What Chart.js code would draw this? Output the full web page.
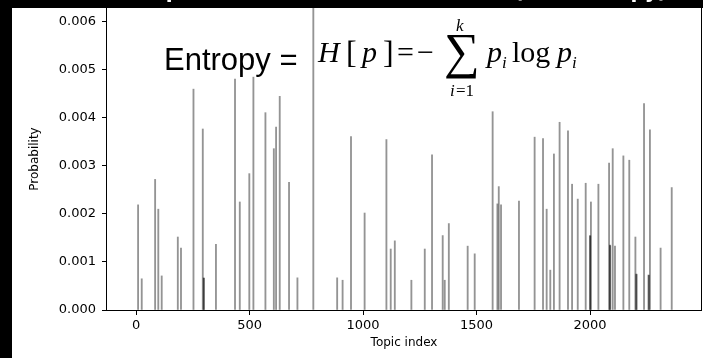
<!DOCTYPE html>
<html>
<head>
<meta charset="utf-8">
<script src="https://cdn.jsdelivr.net/npm/chart.js@4.4.1/dist/chart.umd.min.js"></script>
<style>
  html, body { margin: 0; padding: 0; background: #000; overflow: hidden; }
  #chart { display: block; }
</style>
</head>
<body>
<canvas id="chart" width="703" height="358"></canvas>
<script>
// topic indices and their probabilities
const topics = [9, 25, 84, 98, 113, 184, 198, 253, 294, 298, 299, 352, 436, 457, 499, 517,
  570, 607, 617, 633, 674, 711, 781, 886, 910, 947, 1007, 1103, 1122, 1140, 1213, 1272,
  1304, 1351, 1360, 1378, 1461, 1492, 1571, 1592, 1598, 1608, 1687, 1756, 1793, 1809,
  1825, 1841, 1866, 1903, 1921, 1946, 1981, 2000, 2001, 2004, 2037, 2084, 2088, 2089,
  2100, 2110, 2147, 2173, 2200, 2204, 2205, 2238, 2258, 2259, 2264, 2311, 2360];
const probs = [0.00219, 0.00065, 0.00272, 0.00210, 0.00071, 0.00152, 0.00129, 0.00460,
  0.00377, 0.00067, 0.00066, 0.00137, 0.00481, 0.00225, 0.00284, 0.00485,
  0.00411, 0.00336, 0.00381, 0.00445, 0.00266, 0.00067, 0.02000, 0.00067, 0.00062,
  0.00361, 0.00202, 0.00355, 0.00127, 0.00144, 0.00062, 0.00127,
  0.00323, 0.00155, 0.00062, 0.00180, 0.00133, 0.00117, 0.00413, 0.00221, 0.00257,
  0.00219, 0.00227, 0.00360, 0.00357, 0.00210,
  0.00083, 0.00325, 0.00391, 0.00373, 0.00262, 0.00231, 0.00264, 0.00155, 0.00154,
  0.00225, 0.00262, 0.00306, 0.00135, 0.00134,
  0.00336, 0.00133, 0.00321, 0.00312, 0.00152, 0.00075, 0.00074, 0.00430, 0.00073,
  0.00072, 0.00375, 0.00129, 0.00255];
const xTicks = [0, 500, 1000, 1500, 2000];
const yTicks = [0, 0.001, 0.002, 0.003, 0.004, 0.005, 0.006];

const titleText = "Topic distribution of a document (low entropy)";

// black page, white figure, title mostly cut off at the top
const backdrop = {
  id: "backdrop",
  beforeDraw(chart) {
    const ctx = chart.ctx;
    ctx.save();
    ctx.fillStyle = "#000";
    ctx.fillRect(0, 0, chart.width, chart.height);
    ctx.fillStyle = "#fff";
    ctx.fillRect(12, 8, chart.width - 12, chart.height - 8);
    ctx.font = "bold 20px 'DejaVu Sans'";
    ctx.textAlign = "center";
    ctx.textBaseline = "alphabetic";
    ctx.fillText(titleText, 404, -2);
    ctx.restore();
  }
};

// box around the axes and the entropy formula
const frame = {
  id: "frame",
  afterDraw(chart) {
    const ctx = chart.ctx;
    const a = chart.chartArea;
    ctx.save();
    ctx.strokeStyle = "#000";
    ctx.lineWidth = 1;
    ctx.strokeRect(Math.round(a.left) - 0.5, Math.round(a.top) - 0.5,
      Math.round(a.right - a.left) + 1, Math.round(a.bottom - a.top) + 1);

    ctx.fillStyle = "#000";
    ctx.textBaseline = "alphabetic";
    ctx.textAlign = "left";
    ctx.font = "31px 'Liberation Sans'";
    ctx.fillText("Entropy =", 164, 70);

    const it = "italic 30px 'Liberation Serif'";
    const rm = "30px 'Liberation Serif'";
    const sub = "italic 17px 'Liberation Serif'";
    const put = (txt, font, x, y) => { ctx.font = font; ctx.fillText(txt, x, y); };
    put("H", it, 318, 62);
    put("[", "32px 'Liberation Serif'", 346, 63);
    put("p", it, 362, 62);
    put("]", "32px 'Liberation Serif'", 383, 63);
    put("=", rm, 397, 62);
    put("\u2212", rm, 417, 62);
    put("\u2211", "50px 'Liberation Serif'", 444, 68);
    put("k", sub, 456, 31);
    put("i", sub, 450, 96);
    put("=1", "17px 'Liberation Serif'", 456, 96);
    put("p", it, 487, 62);
    put("i", sub, 502, 68);
    put("log", rm, 512, 62);
    put("p", it, 557, 62);
    put("i", sub, 572, 68);
    ctx.restore();
  }
};

const tickFont = { family: "'DejaVu Sans'", size: 13 };
const labelFont = { family: "'DejaVu Sans'", size: 12 };

new Chart(document.getElementById("chart"), {
  type: "bar",
  data: {
    datasets: [{
      data: topics.map((t, i) => ({ x: t, y: probs[i] })),
      backgroundColor: "rgba(0,0,0,0.42)",
      borderWidth: 0,
      barThickness: 1.2
    }]
  },
  options: {
    responsive: false,
    animation: false,
    devicePixelRatio: 1,
    layout: { padding: { left: 12, top: 8, right: 2, bottom: 0 } },
    plugins: { legend: { display: false }, tooltip: { enabled: false } },
    scales: {
      x: {
        type: "linear",
        min: -128,
        max: 2489,
        offset: false,
        afterBuildTicks: s => { s.ticks = xTicks.map(v => ({ value: v })); },
        afterFit: s => { s.height = 48; s.paddingLeft = 0; s.paddingRight = 0; },
        grid: { offset: false, drawOnChartArea: false, drawTicks: true, tickLength: 5, tickColor: "#000" },
        border: { display: false },
        ticks: { color: "#000", font: tickFont, padding: 3, maxRotation: 0, callback: v => String(v) },
        title: { display: true, text: "Topic index", color: "#000", font: labelFont, padding: { top: 0, bottom: 8 } }
      },
      y: {
        min: 0,
        max: 0.00629,
        afterBuildTicks: s => { s.ticks = yTicks.map(v => ({ value: v })); },
        afterFit: s => { s.width = 95; s.paddingTop = 0; s.paddingBottom = 0; },
        grid: { drawOnChartArea: false, drawTicks: true, tickLength: 5, tickColor: "#000" },
        border: { display: false },
        ticks: { color: "#000", font: tickFont, padding: 6, callback: v => v.toFixed(3) },
        title: { display: true, text: "Probability", color: "#000", font: labelFont, padding: { top: 16, bottom: 0 } }
      }
    }
  },
  plugins: [backdrop, frame]
});
</script>
</body>
</html>
